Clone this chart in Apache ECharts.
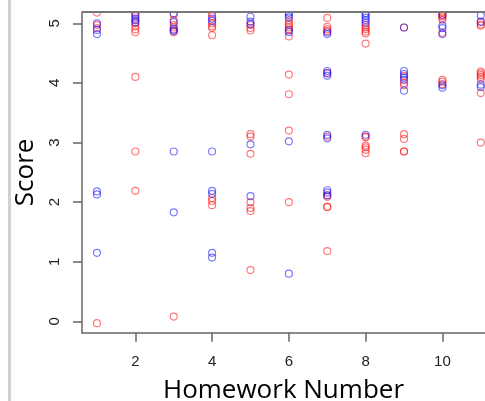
<!DOCTYPE html>
<html>
<head>
<meta charset="utf-8">
<script src="https://cdn.jsdelivr.net/npm/echarts@6/dist/echarts.min.js"></script>
<style>
html,body{margin:0;padding:0;background:#fff;}
#chart{width:485px;height:401px;}
</style>
</head>
<body>
<div id="chart"></div>
<script>
// Homework numbers (x) and scores
const homeworks = [1, 2, 3, 4, 5, 6, 7, 8, 9, 10, 11];
const redScores = [
  [5.18, 4.97, 4.92, -0.03],
  [5.18, 5.12, 5.0, 4.95, 4.9, 4.85, 4.1, 2.85, 2.19],
  [5.15, 5.05, 4.97, 4.93, 4.88, 4.85, 0.08],
  [5.17, 5.12, 5.0, 4.95, 4.92, 4.8, 2.07, 2.02, 1.95],
  [4.97, 4.92, 4.88, 3.14, 3.1, 2.81, 2.0, 1.9, 1.85, 0.86],
  [5.05, 5.0, 4.97, 4.93, 4.9, 4.78, 4.14, 3.81, 3.2, 2.0],
  [5.09, 4.94, 4.9, 4.87, 4.17, 3.1, 2.12, 2.09, 1.92, 1.92, 1.18],
  [4.97, 4.93, 4.9, 4.86, 4.83, 4.66, 3.1, 3.09, 2.95, 2.92, 2.88, 2.82],
  [4.93, 4.12, 4.0, 3.96, 3.14, 3.06, 2.85, 2.85],
  [5.18, 5.15, 5.12, 5.09, 5.06, 4.84, 4.05, 4.02, 3.98],
  [5.02, 4.98, 4.96, 4.19, 4.16, 4.13, 4.1, 4.06, 3.83, 3.0]
];
const blueScores = [
  [5.0, 4.89, 4.82, 2.18, 2.13, 1.15],
  [5.15, 5.08, 5.05, 5.02],
  [5.17, 5.02, 4.9, 4.87, 2.85, 1.83],
  [5.08, 5.04, 2.85, 2.19, 2.14, 1.15, 1.07],
  [5.11, 5.03, 4.99, 2.97, 2.1],
  [5.18, 5.14, 5.1, 4.88, 4.85, 3.02, 0.8],
  [4.85, 4.82, 4.2, 4.16, 4.12, 3.13, 3.07, 2.2, 2.16, 2.11],
  [5.17, 5.13, 5.09, 5.05, 5.01, 3.13],
  [4.93, 4.2, 4.15, 4.09, 4.05, 3.87],
  [5.14, 4.96, 4.92, 4.82, 3.96, 3.92],
  [5.13, 5.03, 3.97, 3.93]
];
const xTicks = [2, 4, 6, 8, 10];
const yTicks = [0, 1, 2, 3, 4, 5];

function toPoints(groups) {
  const pts = [];
  groups.forEach((g, i) => g.forEach(v => pts.push([homeworks[i], v])));
  return pts;
}

const chart = echarts.init(document.getElementById('chart'), null, {renderer: 'canvas'});
const axisColor = '#666';
const option = {
  animation: false,
  backgroundColor: '#fff',
  grid: {left: 82, top: 12, width: 403, height: 320.7, containLabel: false, outerBoundsMode: 'none'},
  xAxis: {
    type: 'value', min: 0.61, max: 11.11,
    splitLine: {show: false},
    axisLine: {show: true, onZero: false, lineStyle: {color: axisColor, width: 1.5}},
    axisTick: {show: true, length: 9, customValues: xTicks, lineStyle: {color: axisColor, width: 1.5}},
    axisLabel: {customValues: xTicks, color: '#222', fontFamily: 'Liberation Sans', fontSize: 15, margin: 22},
    name: 'Homework Number', nameLocation: 'middle', nameGap: 45,
    nameTextStyle: {fontFamily: 'Open Sans', fontSize: 26, color: '#000'}
  },
  yAxis: {
    type: 'value', min: -0.19, max: 5.19,
    splitLine: {show: false},
    axisLine: {show: true, onZero: false, lineStyle: {color: axisColor, width: 1.5}},
    axisTick: {show: true, length: 9, customValues: yTicks, lineStyle: {color: axisColor, width: 1.5}},
    axisLabel: {customValues: yTicks, rotate: 90, color: '#222', fontFamily: 'Liberation Sans', fontSize: 15, margin: 20},
    name: 'Score', nameLocation: 'middle', nameGap: 43, nameRotate: 90,
    nameTextStyle: {fontFamily: 'Open Sans', fontSize: 26, color: '#000'}
  },
  series: [
    {
      type: 'scatter', data: toPoints(redScores), symbol: 'circle', symbolSize: 7,
      itemStyle: {color: 'rgba(255,255,255,0)', borderColor: 'rgba(255,0,0,0.65)', borderWidth: 1.2}
    },
    {
      type: 'scatter', data: toPoints(blueScores), symbol: 'circle', symbolSize: 7,
      itemStyle: {color: 'rgba(255,255,255,0)', borderColor: 'rgba(0,0,255,0.65)', borderWidth: 1.2}
    }
  ],
  graphic: [
    {type: 'rect', left: 82, top: 0, shape: {width: 403, height: 11.5}, style: {fill: '#fff'}, z: 100},
    {type: 'line', shape: {x1: 82, y1: 12, x2: 485, y2: 12}, style: {stroke: '#777', lineWidth: 2}, z: 101},
    {type: 'rect', shape: {x: 8, y: 0, width: 3, height: 401}, style: {fill: '#d0d0d0'}, z: 101}
  ]
};
chart.setOption(option);
</script>
</body>
</html>
